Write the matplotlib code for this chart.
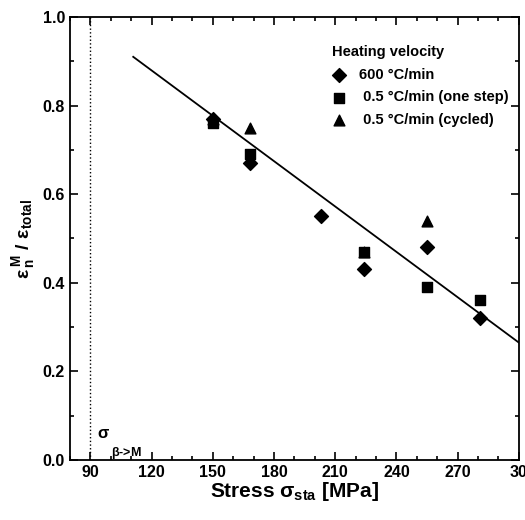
import matplotlib
matplotlib.use('Agg')
import matplotlib.pyplot as plt
from matplotlib.ticker import MultipleLocator, FormatStrFormatter

plt.rcParams['font.family'] = ['Liberation Sans', 'DejaVu Sans']
plt.rcParams['mathtext.fontset'] = 'custom'
plt.rcParams['mathtext.rm'] = 'Liberation Sans:bold'
plt.rcParams['mathtext.it'] = 'Liberation Sans:bold'

# data
stress_600 = [150, 168, 203, 224, 255, 281]
ratio_600 = [0.77, 0.67, 0.55, 0.43, 0.48, 0.32]
stress_one = [150, 168, 224, 255, 281]
ratio_one = [0.76, 0.69, 0.47, 0.39, 0.36]
stress_cyc = [150, 168, 224, 255]
ratio_cyc = [0.77, 0.75, 0.47, 0.54]
fit_x = [111, 300]
fit_y = [0.91, 0.265]
sigma_bm = 90
xtick_vals = [90, 120, 150, 180, 210, 240, 270, 300]
xtick_labels = ['90', '120', '150', '180', '210', '240', '270', '30']

fig = plt.figure(figsize=(5.25, 5.2), dpi=100)
ax = fig.add_axes([0.1333, 0.1154, 0.855, 0.852])

ax.axvline(sigma_bm, color='black', ls=':', lw=1.0)
ax.plot(fit_x, fit_y, color='black', lw=1.3)
ax.scatter(stress_600, ratio_600, marker='D', s=50, color='black', zorder=3, label='600 \u00b0C/min')
ax.scatter(stress_one, ratio_one, marker='s', s=45, color='black', zorder=3, label=' 0.5 \u00b0C/min (one step)')
ax.scatter(stress_cyc, ratio_cyc, marker='^', s=60, color='black', zorder=3, label=' 0.5 \u00b0C/min (cycled)')

ax.set_xlim(80, 300)
ax.set_ylim(0, 1.0)
ax.set_xticks(xtick_vals)
ax.set_xticklabels(xtick_labels)
ax.xaxis.set_minor_locator(MultipleLocator(10))
ax.yaxis.set_major_locator(MultipleLocator(0.2))
ax.yaxis.set_minor_locator(MultipleLocator(0.1))
ax.yaxis.set_major_formatter(FormatStrFormatter('%.1f'))
ax.tick_params(which='both', direction='in', top=True, right=True, width=1.2)
ax.tick_params(which='major', length=6, labelsize=11.5)
ax.tick_params(which='minor', length=3)
for lab in ax.get_xticklabels() + ax.get_yticklabels():
    lab.set_fontweight('bold')
for sp in ax.spines.values():
    sp.set_linewidth(1.3)

ax.text(93, 0.05, r'$\sigma$', fontsize=12, fontweight='bold')
ax.text(100, 0.01, r'$\beta$->M', fontsize=9, fontweight='bold')

ax.set_xlabel(r'Stress $\sigma_{sta}$ [MPa]', fontsize=15, fontweight='bold', labelpad=0)
ax.set_ylabel(r'$\varepsilon^{\,M}_{\,n}\ /\ \varepsilon_{total}$', fontsize=14, labelpad=4)

leg = ax.legend(title='Heating velocity', loc='upper left', bbox_to_anchor=(0.57, 0.95),
                frameon=False, prop={'weight': 'bold', 'size': 10.5},
                handlelength=1.0, handletextpad=0.9, labelspacing=0.6, borderaxespad=0)
leg.get_title().set_fontweight('bold')
leg.get_title().set_fontsize(10.5)
leg._legend_box.align = 'left'

fig.savefig('out.png', dpi=100)
